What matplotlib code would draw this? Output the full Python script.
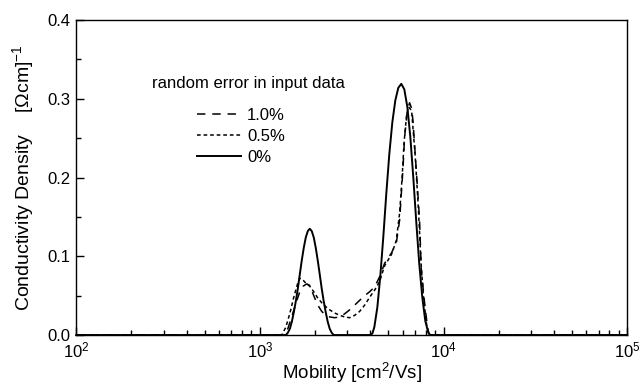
import matplotlib
matplotlib.use("Agg")
import matplotlib.pyplot as plt
from matplotlib.ticker import LogLocator, MultipleLocator

plt.rcParams["font.family"] = ["Liberation Sans", "DejaVu Sans"]
plt.rcParams["mathtext.default"] = "regular"

# ==============================
# Data
# ==============================
# 0% error
mob_0 = [100, 1386, 1421, 1457, 1494, 1531, 1570, 1610, 1650, 1692, 1735, 1779, 1824,
         1870, 1917, 1966, 2015, 2066, 2119, 2172, 2227, 2284, 2341, 2401, 2461, 2524,
         3997, 4099, 4200, 4361, 4528, 4702, 4882, 5069, 5263, 5464, 5674,
         5891, 6117, 6351, 6594, 6847, 7109, 7381, 7664, 7957, 8262, 8466, 100000]
cond_0 = [0.0, 0.0, 0.003, 0.008, 0.017, 0.029, 0.043, 0.059, 0.077, 0.095, 0.111, 0.124, 0.132,
          0.135, 0.132, 0.124, 0.111, 0.095, 0.077, 0.059, 0.043, 0.029, 0.017, 0.008, 0.003, 0.0,
          0.0, 0.002, 0.010, 0.035, 0.075, 0.125, 0.180, 0.230, 0.270, 0.298, 0.314,
          0.319, 0.312, 0.290, 0.252, 0.200, 0.143, 0.090, 0.048, 0.018, 0.003, 0.0, 0.0]

# 1.0% error
mob_10 = [100, 1334, 1420, 1500, 1580, 1650, 1720, 1800, 1870, 1966, 2067, 2173, 2285,
          2402, 2557, 2722, 2897, 3083, 3282, 3493, 3722, 3961, 4217, 4489, 4777,
          5199, 5533, 5767, 6010, 6138, 6350, 6535, 6700, 6812, 7106, 7406, 7566, 7885,
          8219, 8392, 100000]
cond_10 = [0.0, 0.0, 0.008, 0.025, 0.042, 0.055, 0.062, 0.065, 0.063, 0.050, 0.038, 0.030, 0.025,
           0.023, 0.022, 0.023, 0.027, 0.032, 0.038, 0.044, 0.050, 0.055, 0.061, 0.074, 0.091,
           0.104, 0.117, 0.146, 0.210, 0.251, 0.285, 0.295, 0.288, 0.273, 0.210, 0.146, 0.083, 0.041,
           0.006, 0.0, 0.0]

# 0.5% error
mob_05 = [100, 1317, 1385, 1455, 1530, 1609, 1650, 1700, 1778, 1870, 1966, 2067, 2173,
          2285, 2402, 2557, 2722, 2897, 3083, 3282, 3493, 3722, 3961, 4217, 4489,
          4777, 5199, 5533, 5767, 5950, 6100, 6300, 6450, 6700, 7000, 7300, 7550,
          7800, 8100, 8392, 100000]
cond_05 = [0.0, 0.0, 0.010, 0.027, 0.048, 0.066, 0.072, 0.071, 0.066, 0.062, 0.055, 0.047, 0.041,
           0.036, 0.032, 0.028, 0.025, 0.023, 0.022, 0.025, 0.030, 0.038, 0.048, 0.057, 0.068,
           0.088, 0.102, 0.120, 0.155, 0.200, 0.245, 0.280, 0.290, 0.285, 0.230, 0.160, 0.090,
           0.045, 0.012, 0.0, 0.0]

legend_title = "random error in input data"
labels = ["1.0%", "0.5%", "0%"]

# ==============================
# Plot
# ==============================
fig = plt.figure(figsize=(6.4, 3.86), dpi=100)
ax = fig.add_axes([0.119, 0.132, 0.861, 0.816])

l1, = ax.plot(mob_10, cond_10, color="black", lw=1.1, dashes=(5.5, 4.5), clip_on=False)
l2, = ax.plot(mob_05, cond_05, color="black", lw=1.1, dashes=(2.4, 1.9), clip_on=False)
l3, = ax.plot(mob_0, cond_0, color="black", lw=1.4, clip_on=False)

ax.set_xscale("log")
ax.set_xlim(100, 100000)
ax.set_ylim(0, 0.4)
ax.yaxis.set_major_locator(MultipleLocator(0.1))
ax.yaxis.set_minor_locator(MultipleLocator(0.05))
ax.yaxis.set_major_formatter(plt.FormatStrFormatter("%.1f"))
ax.xaxis.set_minor_locator(LogLocator(base=10, subs=range(2, 10)))

ax.tick_params(which="both", direction="in", top=False, right=False, labelsize=12)
ax.tick_params(which="major", length=6, width=1, pad=4)
ax.tick_params(which="minor", length=3.5, width=1)
for s in ax.spines.values():
    s.set_linewidth(1)

ax.set_xlabel("Mobility [cm$^2$/Vs]", fontsize=13.5, labelpad=0)
ax.set_ylabel("Conductivity Density    [\u03A9cm]$^{-1}$", fontsize=14, labelpad=8)

ax.text(0.138, 0.80, legend_title, transform=ax.transAxes, fontsize=12, va="center", ha="left")
ax.legend([l1, l2, l3], labels, loc="upper left", bbox_to_anchor=(0.2196, 0.72),
          frameon=False, fontsize=12, handlelength=2.6, handletextpad=0.4,
          labelspacing=0.36, borderpad=0, borderaxespad=0)

fig.savefig("out.png", dpi=100)
